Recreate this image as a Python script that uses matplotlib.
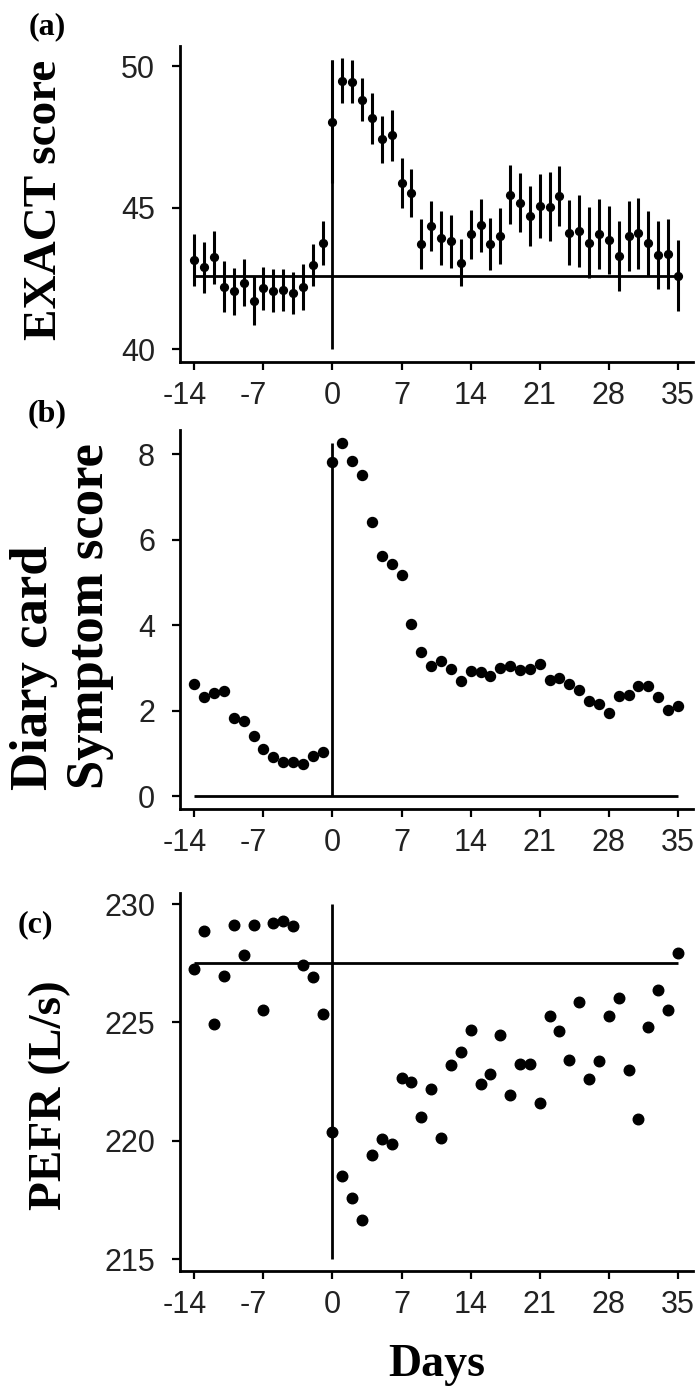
import matplotlib
matplotlib.use("Agg")
import matplotlib.pyplot as plt
import matplotlib.transforms as mtransforms

# ---- data -------------------------------------------------------------
days = list(range(-14, 36))

exact_mean = [43.15, 42.89, 43.25, 42.21, 42.04, 42.35, 41.72, 42.15, 42.06, 42.09,
              41.98, 42.19, 42.98, 43.76, 48.04, 49.48, 49.45, 48.82, 48.15, 47.41,
              47.56, 45.88, 45.51, 43.71, 44.35, 43.94, 43.81, 43.06, 44.06, 44.38,
              43.72, 44.00, 45.45, 45.18, 44.71, 45.06, 45.04, 45.41, 44.12, 44.18,
              43.76, 44.07, 43.86, 43.29, 44.00, 44.09, 43.74, 43.33, 43.35, 42.60]
exact_err = [0.92, 0.91, 0.94, 0.91, 0.84, 0.83, 0.86, 0.76, 0.76, 0.75,
             0.75, 0.82, 0.74, 0.78, 2.18, 0.79, 0.75, 0.76, 0.89, 0.84,
             0.90, 0.88, 0.85, 0.89, 0.87, 0.96, 0.94, 0.84, 0.87, 0.94,
             0.91, 1.00, 1.04, 1.05, 1.07, 1.14, 1.21, 1.05, 1.15, 1.26,
             1.25, 1.24, 1.19, 1.25, 1.25, 1.26, 1.16, 1.20, 1.24, 1.25]

diary_score = [2.63, 2.32, 2.42, 2.46, 1.83, 1.76, 1.42, 1.11, 0.92, 0.80,
               0.80, 0.76, 0.94, 1.04, 7.83, 8.27, 7.85, 7.51, 6.42, 5.62,
               5.44, 5.17, 4.04, 3.38, 3.06, 3.16, 2.97, 2.70, 2.93, 2.90,
               2.81, 3.00, 3.04, 2.95, 2.98, 3.10, 2.73, 2.76, 2.64, 2.50,
               2.22, 2.16, 1.95, 2.34, 2.37, 2.58, 2.58, 2.33, 2.01, 2.12]

pefr = [227.25, 228.87, 224.92, 226.96, 229.10, 227.85, 229.12, 225.52, 229.19, 229.29,
        229.08, 227.43, 226.91, 225.34, 220.37, 218.52, 217.60, 216.65, 219.41, 220.07,
        219.87, 222.66, 222.47, 221.00, 222.19, 220.13, 223.22, 223.73, 224.68, 222.42,
        222.82, 224.46, 221.95, 223.26, 223.26, 221.58, 225.28, 224.65, 223.40, 225.85,
        222.60, 223.36, 225.28, 226.02, 223.01, 220.92, 224.79, 226.37, 225.52, 227.95]

exact_baseline = 42.6
diary_baseline = 0.0
pefr_baseline = 227.53

exact_vline = (40.0, 50.2)
diary_vline = (0.0, 8.27)
pefr_vline = (215.0, 230.0)

x_ticks = [-14, -7, 0, 7, 14, 21, 28, 35]
x_tick_labels = ["-14", "-7", "0", "7", "14", "21", "28", "35"]
exact_ticks = [40, 45, 50]
diary_ticks = [0, 2, 4, 6, 8]
pefr_ticks = [215, 220, 225, 230]

# ---- figure -------------------------------------------------------------
W, H = 698, 1387
fig = plt.figure(figsize=(W / 100, H / 100), dpi=100)

SANS = "Liberation Sans"
SERIF = "Liberation Serif"


def px_axes(left, right, top, bottom):
    return fig.add_axes([left / W, 1 - bottom / H, (right - left) / W, (bottom - top) / H])


def style(ax, xlim, ylim, yticks):
    ax.set_xlim(*xlim)
    ax.set_ylim(*ylim)
    for s in ("top", "right"):
        ax.spines[s].set_visible(False)
    for s in ("left", "bottom"):
        ax.spines[s].set_linewidth(2.0)
    ax.set_xticks(x_ticks)
    ax.set_xticklabels(x_tick_labels)
    ax.set_yticks(yticks)
    ax.tick_params(direction="out", length=6, width=1.6, labelsize=22,
                   colors="black", labelcolor="#222222")
    ax.tick_params(axis="x", pad=8)
    ax.tick_params(axis="y", pad=12)
    for lab in ax.get_xticklabels() + ax.get_yticklabels():
        lab.set_fontfamily(SANS)
    shift = mtransforms.ScaledTranslation(-10 / 100, 0, fig.dpi_scale_trans)
    for lab, txt in zip(ax.get_xticklabels(), x_tick_labels):
        if txt.startswith("-"):
            lab.set_transform(lab.get_transform() + shift)


XLIM = (-15.45, 36.5)
LINE_KW = dict(color="black", lw=2.0, zorder=1)

# (a) EXACT score with error bars
ax_a = px_axes(180, 692.7, 46, 361.7)
style(ax_a, XLIM, (39.56, 50.71), exact_ticks)
ax_a.hlines(exact_baseline, days[0], days[-1], **LINE_KW)
ax_a.vlines(0, *exact_vline, **LINE_KW)
ax_a.errorbar(days, exact_mean, yerr=exact_err, fmt="o", color="black",
              ms=5.6, elinewidth=2.2, capsize=0, zorder=3)

# (b) diary card symptom score
ax_b = px_axes(180, 692.7, 430, 809)
style(ax_b, XLIM, (-0.295, 8.57), diary_ticks)
ax_b.hlines(diary_baseline, days[0], days[-1], **LINE_KW)
ax_b.vlines(0, *diary_vline, **LINE_KW)
ax_b.plot(days, diary_score, "o", color="black", ms=7.2, zorder=3)

# (c) peak expiratory flow
ax_c = px_axes(180, 692.7, 892.7, 1271)
style(ax_c, XLIM, (214.5, 230.48), pefr_ticks)
ax_c.hlines(pefr_baseline, days[0], days[-1], **LINE_KW)
ax_c.vlines(0, *pefr_vline, **LINE_KW)
ax_c.plot(days, pefr, "o", color="black", ms=7.6, zorder=3)


def fx(px):
    return px / W


def fy(py):
    return 1 - py / H


LABEL_KW = dict(fontfamily=SERIF, fontweight="bold", color="black")

# panel tags
fig.text(fx(47), fy(27), "(a)", fontsize=23, ha="center", va="center", **LABEL_KW)
fig.text(fx(47), fy(414), "(b)", fontsize=23, ha="center", va="center", **LABEL_KW)
fig.text(fx(35), fy(925), "(c)", fontsize=23, ha="center", va="center", **LABEL_KW)

# axis titles
fig.text(fx(45), fy(200), "EXACT score", fontsize=34, rotation=90,
         ha="center", va="center", **LABEL_KW)
fig.text(fx(34), fy(790), "Diary card", fontsize=38, rotation=90,
         ha="center", va="bottom", **LABEL_KW)
fig.text(fx(90), fy(789), "Symptom score", fontsize=38, rotation=90,
         ha="center", va="bottom", **LABEL_KW)
fig.text(fx(50), fy(1095), "PEFR (L/s)", fontsize=34, rotation=90,
         ha="center", va="center", **LABEL_KW)
fig.text(fx(437), fy(1376), "Days", fontsize=33, ha="center", va="baseline",
         **LABEL_KW)

fig.savefig("out.png", dpi=100, facecolor="white")
